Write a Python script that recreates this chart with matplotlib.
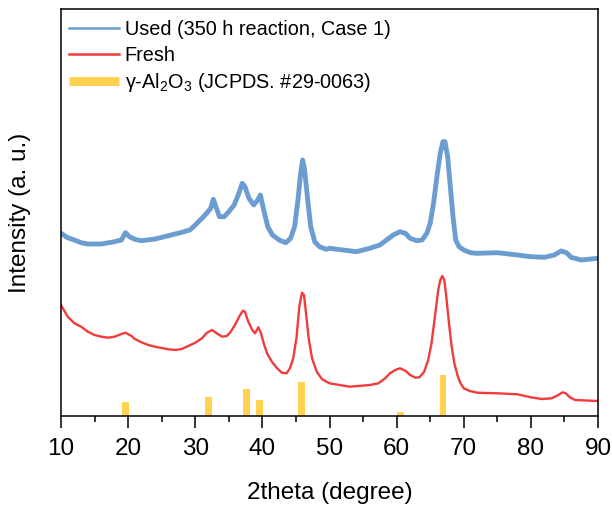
import matplotlib
matplotlib.use("Agg")
import matplotlib.pyplot as plt
from matplotlib.lines import Line2D
from matplotlib.ticker import MultipleLocator

plt.rcParams['font.family'] = ['Liberation Sans', 'DejaVu Sans']
plt.rcParams['mathtext.fontset'] = 'custom'
plt.rcParams['mathtext.rm'] = 'Liberation Sans'
plt.rcParams['mathtext.it'] = 'Liberation Sans:italic'

# Fresh sample (red)
fresh_2theta = [10, 11, 12, 13, 14, 15, 16, 17, 18, 19, 19.6, 20.5, 21, 22, 23, 24, 25,
                26, 27, 28, 30, 31, 31.7, 32.5, 33.2, 34, 34.7, 35.3, 36, 36.6, 37.1,
                37.4, 37.9, 38.5, 38.9, 39.4, 39.8, 40.2, 40.7, 41.4, 42.2, 42.9, 43.6,
                44.1, 44.6, 45.1, 45.5, 45.9, 46.2, 46.5, 46.9, 47.4, 48.1, 48.9, 50,
                53, 56, 57.3, 58.3, 59, 59.8, 60.5, 61.3, 62, 62.8, 63.4, 64.1, 64.7,
                65.2, 65.7, 66.2, 66.5, 66.8, 67.1, 67.4, 67.8, 68.2, 68.6, 69.1, 69.5,
                70, 70.9, 72, 75, 78, 80, 81.6, 83.1, 84.1, 84.7, 85.2, 85.8, 86.6, 90]
fresh_int = [111, 99.3, 92.7, 89.3, 84.3, 81, 79.3, 78.3, 79.3, 82, 83.3, 80, 77, 73.7,
             71, 69.3, 68, 66.7, 66, 67, 73.3, 77.7, 83, 86, 82.7, 79.3, 80, 84.3, 92,
             100, 105.3, 104.3, 94.3, 86, 82.7, 88.7, 82.7, 72.7, 62.7, 54.3, 47.7,
             43.3, 42.7, 47.7, 57.7, 79.3, 109.3, 123.3, 121, 103, 77.7, 57.7, 44.3,
             36.7, 32.7, 29.3, 31, 32.7, 37.7, 42.7, 46, 47.7, 45.3, 41, 38.3, 38.7,
             44.3, 56, 72.7, 99.3, 126, 136, 140, 136, 119.3, 92.7, 69.3, 52.7, 40,
             33, 27.7, 25, 23.3, 22.7, 21.7, 18.7, 17, 17.7, 21, 23.7, 22.7, 18.7, 16, 15]

# Used sample (blue)
used_2theta = [10, 11, 12, 13, 14, 16, 18, 19, 19.6, 20.2, 21, 22, 24, 26, 28, 29.2, 30,
               31, 31.7, 32.3, 32.7, 33.1, 33.6, 34.3, 35, 35.8, 36.5, 37, 37.4, 38,
               38.7, 39.3, 39.7, 40.2, 40.8, 41.5, 42.5, 43.5, 44.2, 44.8, 45.3, 45.7,
               46, 46.3, 46.7, 47.2, 47.8, 48.5, 49.5, 50, 52, 54, 56, 57.5, 58.5, 59.5,
               60.5, 61.3, 62, 63, 63.8, 64.5, 65, 65.5, 66, 66.5, 66.9, 67.2, 67.6, 68,
               68.4, 68.8, 69.3, 70, 71, 72, 75, 78, 80, 82, 83.5, 84.5, 85.3, 86, 87.5, 90]
used_int = [182.7, 178.3, 176, 173.3, 172, 172, 174.3, 176, 183.3, 179.3, 176.7, 175.3,
            177, 180.3, 183.7, 186, 191, 197.7, 202.7, 207.7, 216.7, 208.7, 199.3, 199.3,
            204.3, 211, 222.7, 232.7, 229.3, 217.7, 211, 216, 221, 206, 189.3, 181, 176,
            173.3, 177.7, 189.3, 216, 242.7, 256, 246, 219.3, 189.3, 174.3, 169.3, 166.7,
            167.7, 166, 164.3, 167.7, 171, 176, 181, 184.3, 182.7, 177.7, 175.3, 176,
            182.7, 192.7, 212.7, 239.3, 262.7, 274.3, 274.3, 259.3, 229.3, 199.3, 176,
            169.3, 166, 163.3, 162.7, 163.3, 161, 159.3, 158.7, 161, 165, 163.3, 158.7,
            156, 157.7]

# Reference pattern gamma-Al2O3 (JCPDS #29-0063)
ref_2theta = [19.6, 32.0, 37.6, 39.6, 45.8, 60.6, 66.9]
ref_int = [14.5, 19.0, 27.5, 16.5, 34.0, 4.2, 40.7]

blue = '#6C9DD0'
red = '#F03C3C'
yellow = '#FFD34F'

fig = plt.figure(figsize=(6.12, 5.05), dpi=100)
ax = fig.add_axes([61/612, 89/505, 537/612, 407/505])

ax.bar(ref_2theta, ref_int, width=1.0, color=yellow, linewidth=0, zorder=1)
ax.plot(fresh_2theta, fresh_int, color=red, lw=1.7, zorder=2)
ax.plot(used_2theta, used_int, color=blue, lw=3.5, solid_joinstyle='round', zorder=2)

ax.set_xlim(10, 90)
ax.set_ylim(0, 407)
ax.set_yticks([])
ax.xaxis.set_major_locator(MultipleLocator(10))
ax.xaxis.set_minor_locator(MultipleLocator(5))
ax.tick_params(axis='x', which='major', direction='out', length=8.5, width=1.1,
               labelsize=17.5, pad=7)
ax.tick_params(axis='x', which='minor', direction='out', length=4.5, width=1.1)
for s in ax.spines.values():
    s.set_linewidth(1.1)

ax.set_xlabel('2theta (degree)', fontsize=17.5, labelpad=16)
ax.set_ylabel('Intensity (a. u.)', fontsize=17.5)
ax.yaxis.set_label_coords(-0.056, 0.5)

handles = [Line2D([], [], color=blue, lw=1.8),
           Line2D([], [], color=red, lw=1.8),
           Line2D([], [], color=yellow, lw=6.5, solid_capstyle='butt')]
labels = ['Used (350 h reaction, Case 1)', 'Fresh',
          'γ-Al$\\mathregular{_2}$O$\\mathregular{_3}$ (JCPDS. #29-0063)']
ax.legend(handles, labels, loc='upper left', bbox_to_anchor=(0.0, 0.9926),
          frameon=False, fontsize=14.3, handlelength=2.5, handletextpad=0.3,
          labelspacing=0.33, borderaxespad=0.0, borderpad=0.4)

fig.savefig('out.png', dpi=100)
